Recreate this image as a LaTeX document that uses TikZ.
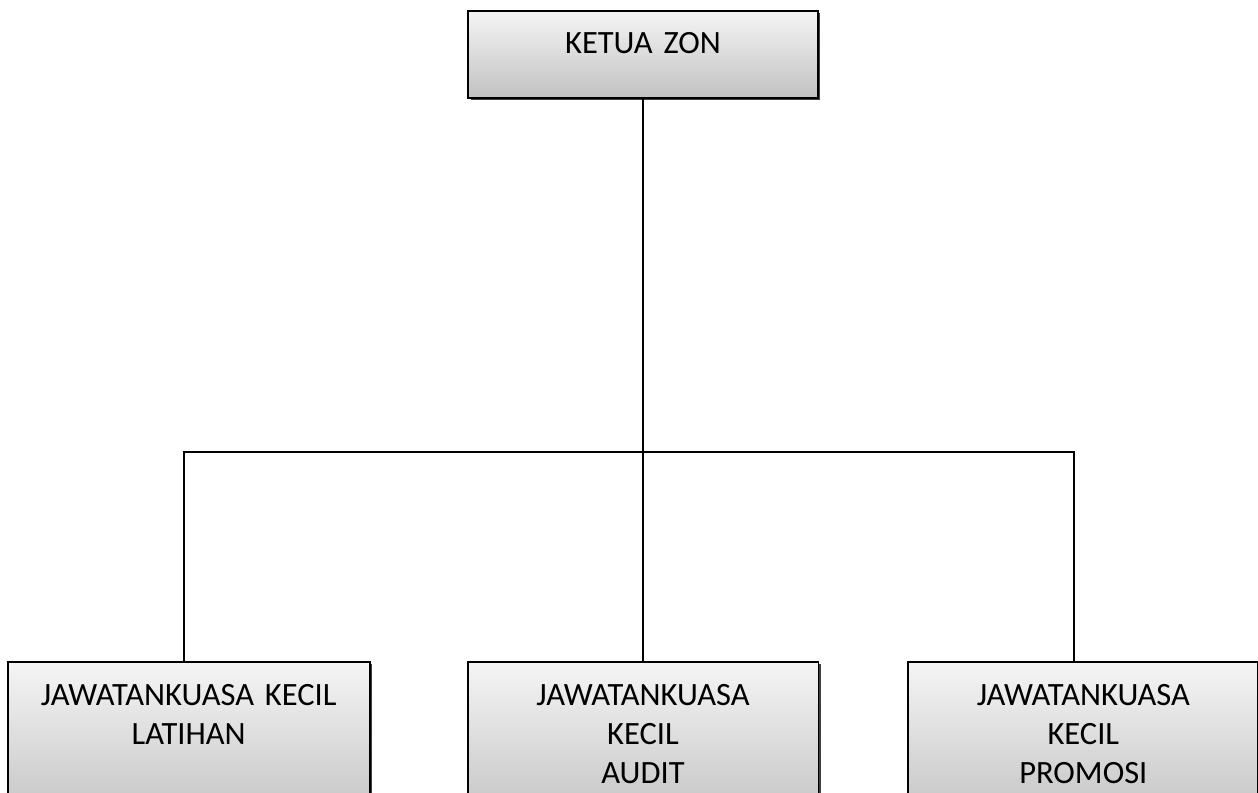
\documentclass[tikz,border=0pt]{standalone}
\usepackage{fontspec}
\setmainfont{Carlito}
\usetikzlibrary{positioning,shadows}

\begin{document}
\begin{tikzpicture}[
        x=0.02cm, y=-0.02cm,
        node distance=1cm,
        unitbox/.style={rectangle, draw, line width=1.1pt, top color=black!4, bottom color=black!24,
            drop shadow={shadow xshift=0.05cm, shadow yshift=-0.05cm, fill=black!75, opacity=1},
            inner sep=0pt, align=center, font=\fontsize{18.5pt}{22.2pt}\selectfont},
        headbox/.style={unitbox, text width=7cm, text height=0.86cm, text depth=0.88cm},
        subbox/.style={unitbox, text height=0.88cm, text depth=2.4cm},
        link/.style={line width=1.1pt}
    ]

    \useasboundingbox (0,0) rectangle (1258,792);
    \clip (0,0) rectangle (1258,792);

    % Head of the zone
    \node[headbox, anchor=north] (ketua) at (643,10) {KETUA ZON};

    % Subcommittees - placed relative to the middle one
    \node[subbox, text width=7.02cm, below=11.24cm of ketua] (audit) {JAWATANKUASA\\KECIL\\AUDIT};
    \node[subbox, text width=7.24cm, left=1.92cm of audit] (latihan) {JAWATANKUASA KECIL\\LATIHAN};
    \node[subbox, text width=7cm, right=1.76cm of audit] (promosi) {JAWATANKUASA\\KECIL\\PROMOSI};

    % Connectors
    \coordinate (bar) at (643,452);
    \draw[link] (ketua.south) -- (audit.north);
    \draw[link] ([xshift=-0.1cm]latihan.north) -- ([xshift=-0.1cm]latihan.north |- bar)
        -- ([xshift=-0.18cm]promosi.north |- bar) -- ([xshift=-0.18cm]promosi.north);

\end{tikzpicture}
\end{document}
